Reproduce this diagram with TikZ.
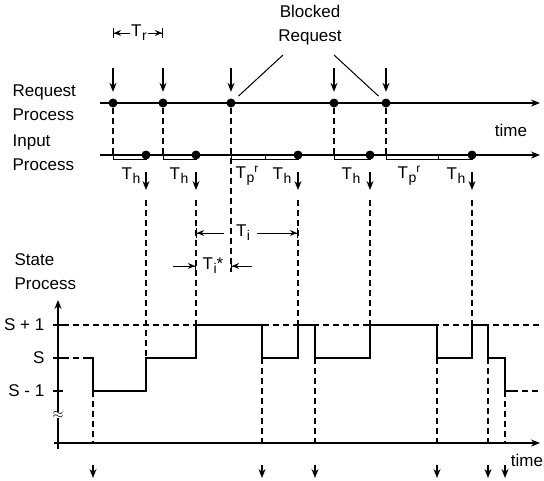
\documentclass[tikz,border=0pt]{standalone}
\usepackage{fontspec}
\setmainfont{Liberation Sans}
\usetikzlibrary{arrows.meta,positioning}
\newcommand{\Tsub}[1]{T\kern0.5pt\raisebox{-0.45ex}{\fontsize{14}{14}\selectfont #1}}
\newcommand{\Tpr}{T\kern0.5pt\raisebox{-0.45ex}{\fontsize{14}{14}\selectfont p}\raisebox{0.7ex}{\fontsize{12}{12}\selectfont r}}

\begin{document}
\begin{tikzpicture}[x=1pt, y=-1pt, line width=1.3pt,
  >={Stealth[length=9pt,width=7pt]},
  dot/.style={circle, fill, inner sep=0pt, minimum size=9pt},
  lbl/.style={font=\fontsize{17}{24}\selectfont, inner sep=1pt},
  dsh/.style={dash pattern=on 6pt off 4pt, line width=1.2pt},
  dim/.style={line width=1pt, -{Stealth[length=7pt,width=6pt]Bar[width=10pt]}},
  wave/.style={line width=1.6pt}]
  \useasboundingbox (0,0) rectangle (544,480);

  % left labels
  \node[lbl, anchor=west, align=left] (reqp) at (11,103) {Request\\Process};
  \node[lbl, anchor=west, align=left] (inp) at (11,153) {Input\\Process};
  \node[lbl, anchor=west, align=left] (stp) at (13,272) {State\\Process};

  % request process
  \coordinate (rq0) at (100,103);
  \coordinate (rqE) at (540,103);
  \draw[->] (rq0) -- (rqE);
  \node[dot] (r1) at (113,103) {};
  \node[dot] (r2) at (163,103) {};
  \node[dot] (r3) at (231,103) {};
  \node[dot] (r4) at (334,103) {};
  \node[dot] (r5) at (386,103) {};
  \coordinate (ra1) at (113,68);
  \coordinate (ra2) at (163,68);
  \coordinate (ra3) at (231,68);
  \coordinate (ra4) at (334,68);
  \coordinate (ra5) at (386,68);
  \draw[->, shorten >=6pt] (ra1) -- (r1);
  \draw[->, shorten >=6pt] (ra2) -- (r2);
  \draw[->, shorten >=6pt] (ra3) -- (r3);
  \draw[->, shorten >=6pt] (ra4) -- (r4);
  \draw[->, shorten >=6pt] (ra5) -- (r5);
  \node[lbl] (time1) at (511,130) {time};

  % T_r
  \coordinate (tr0) at (113,33);
  \coordinate (tr1) at (163,33);
  \node[lbl] (tr) at (139,33) {\Tsub{r}};
  \draw[dim] (tr.west) -- (tr0);
  \draw[dim] (tr.east) -- (tr1);

  % blocked request
  \node[lbl, align=center] (blk) at (310,25) {Blocked\\Request};
  \coordinate (bl1) at (283,55);
  \coordinate (bl2) at (334,55);
  \draw[line width=1pt, shorten >=5pt] (bl1) -- (r3);
  \draw[line width=1pt, shorten >=5pt] (bl2) -- (r5);

  % input process
  \coordinate (in0) at (100,155);
  \coordinate (inE) at (540,155);
  \draw[->] (in0) -- (inE);
  \node[dot] (i1) at (146,155) {};
  \node[dot] (i2) at (196,155) {};
  \node[dot] (i3) at (298,155) {};
  \node[dot] (i4) at (370,155) {};
  \node[dot] (i5) at (472,155) {};
  \coordinate (b1) at (113,155);
  \coordinate (b2) at (163,155);
  \coordinate (b3) at (231,155);
  \coordinate (b4) at (334,155);
  \coordinate (b5) at (386,155);
  \coordinate (m3) at (265,155);
  \coordinate (m5) at (438,155);
  \draw[line width=1pt] (b1) -- ++(0,4) -| (i1);
  \draw[line width=1pt] (b2) -- ++(0,4) -| (i2);
  \draw[line width=1pt] (b3) -- ++(0,4) -| (i3);
  \draw[line width=1pt] (b4) -- ++(0,4) -| (i4);
  \draw[line width=1pt] (b5) -- ++(0,4) -| (i5);
  \draw[line width=1pt] (m3) -- ++(0,4);
  \draw[line width=1pt] (m5) -- ++(0,4);
  \draw[dsh] (r1) -- (b1);
  \draw[dsh] (r2) -- (b2);
  \draw[dsh] (r4) -- (b4);
  \draw[dsh] (r5) -- (b5);
  \coordinate (q3) at (231,272);
  \draw[dsh] (r3) -- (q3);

  \node[lbl] (th1) at (131,176) {\Tsub{h}};
  \node[lbl] (th2) at (179,176) {\Tsub{h}};
  \node[lbl] (tp3) at (247,176) {\Tpr};
  \node[lbl] (th3) at (282,176) {\Tsub{h}};
  \node[lbl] (th4) at (351,176) {\Tsub{h}};
  \node[lbl] (tp5) at (409,176) {\Tpr};
  \node[lbl] (th5) at (456,176) {\Tsub{h}};

  \coordinate (ib1) at (146,190);
  \coordinate (ib2) at (196,190);
  \coordinate (ib3) at (298,190);
  \coordinate (ib4) at (370,190);
  \coordinate (ib5) at (472,190);
  \draw[->, shorten <=12pt] (i1) -- (ib1);
  \draw[->, shorten <=12pt] (i2) -- (ib2);
  \draw[->, shorten <=12pt] (i3) -- (ib3);
  \draw[->, shorten <=12pt] (i4) -- (ib4);
  \draw[->, shorten <=12pt] (i5) -- (ib5);

  % state process
  \coordinate (u1) at (146,358);
  \coordinate (u2) at (196,325);
  \coordinate (u3) at (298,325);
  \coordinate (u4) at (370,325);
  \coordinate (u5) at (472,325);
  \draw[dsh, shorten <=10pt] (ib1) -- (u1);
  \draw[dsh, shorten <=10pt] (ib2) -- (u2);
  \draw[dsh, shorten <=10pt] (ib3) -- (u3);
  \draw[dsh, shorten <=10pt] (ib4) -- (u4);
  \draw[dsh, shorten <=10pt] (ib5) -- (u5);

  % T_i and T_i*
  \coordinate (ti0) at (196,233);
  \coordinate (ti1) at (298,233);
  \node[lbl] (ti) at (243,233) {\Tsub{i}};
  \draw[dim] ([xshift=-10pt]ti.west) -- (ti0);
  \draw[dim] ([xshift=5pt]ti.east) -- (ti1);
  \coordinate (ts0) at (196,266);
  \coordinate (ts1) at (231,266);
  \coordinate (tsl) at (173,266);
  \coordinate (tsr) at (252,266);
  \node[lbl] (tis) at (213,266) {\Tsub{i}*};
  \draw[dim] (tsl) -- (ts0);
  \draw[dim] (tsr) -- (ts1);

  % axes
  \coordinate (sa0) at (58,449);
  \coordinate (saE) at (58,300);
  \draw[->] (sa0) -- (saE);
  \coordinate (ta0) at (54,443);
  \coordinate (taE) at (540,443);
  \draw[->] (ta0) -- (taE);
  \node[lbl] (time2) at (527,460) {time};
  \draw (53,325) -- (63,325);
  \draw (53,358) -- (63,358);
  \draw (53,391) -- (63,391);
  \node[lbl, anchor=east] (sp1) at (46,325) {S + 1};
  \node[lbl, anchor=east] (s0) at (46,358) {S};
  \node[lbl, anchor=east] (sm1) at (46,391) {S - 1};
  \node[fill=white, inner sep=0pt, font=\fontsize{14}{14}\selectfont] (brk) at (58,415) {$\approx$};

  % levels
  \draw[dsh] (63,325) -- (540,325);
  \draw[dsh] (63,358) -- (85,358);
  \draw[dsh] (512,391) -- (540,391);
  \draw[wave] (85,358) -- (93,358) |- (u1 |- 0,391) |- (u2 |- 0,358) |- (262,325)
    |- (u3 |- 0,358) |- (315,325) |- (u4 |- 0,358) |- (437,325)
    |- (u5 |- 0,358) |- (488,325) |- (505,358) |- (512,391);

  % departures
  \coordinate (d1) at (93,391);
  \coordinate (d2) at (262,358);
  \coordinate (d3) at (315,358);
  \coordinate (d4) at (437,358);
  \coordinate (d5) at (488,358);
  \coordinate (d6) at (505,391);
  \coordinate (e1) at (93,443);
  \coordinate (e2) at (262,443);
  \coordinate (e3) at (315,443);
  \coordinate (e4) at (437,443);
  \coordinate (e5) at (488,443);
  \coordinate (e6) at (505,443);
  \draw[dsh] (d1) -- (e1);
  \draw[dsh] (d2) -- (e2);
  \draw[dsh] (d3) -- (e3);
  \draw[dsh] (d4) -- (e4);
  \draw[dsh] (d5) -- (e5);
  \draw[dsh] (d6) -- (e6);
  \coordinate (f1) at (93,478);
  \coordinate (f2) at (262,478);
  \coordinate (f3) at (315,478);
  \coordinate (f4) at (437,478);
  \coordinate (f5) at (488,478);
  \coordinate (f6) at (505,478);
  \draw[->, shorten <=22pt] (e1) -- (f1);
  \draw[->, shorten <=22pt] (e2) -- (f2);
  \draw[->, shorten <=22pt] (e3) -- (f3);
  \draw[->, shorten <=22pt] (e4) -- (f4);
  \draw[->, shorten <=22pt] (e5) -- (f5);
  \draw[->, shorten <=22pt] (e6) -- (f6);
\end{tikzpicture}
\end{document}
